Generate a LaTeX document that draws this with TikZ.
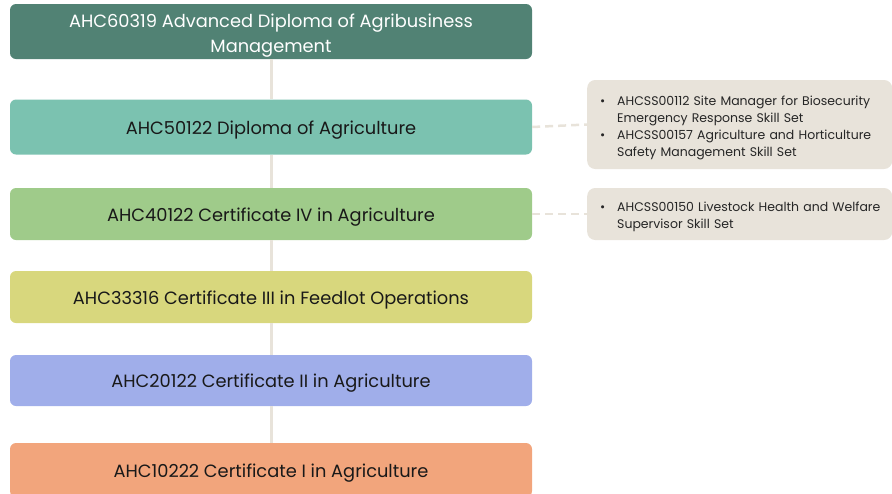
\documentclass[tikz,border=0pt]{standalone}
\usepackage{fontspec}
\setmainfont{Poppins}
\newcommand{\dn}[1]{\raisebox{-3pt}[\height][\depth]{#1}}
\begin{document}
\begin{tikzpicture}[x=1pt,y=-1pt,
  lvl/.style={rounded corners=6pt, minimum width=522pt, inner sep=0pt, align=center, font=\fontsize{17.8}{25}\selectfont, text=black!90},
  side/.style={rounded corners=8pt, fill=sidefill, inner sep=0pt, text width=305pt, align=left, anchor=west, font=\fontsize{12.5}{17}\selectfont, text=black!85},
  spine/.style={draw=spinecol, line width=3pt},
  dashlink/.style={draw=spinecol, line width=2.5pt, dash pattern=on 8pt off 5pt}]
\definecolor{c1}{HTML}{518274}
\definecolor{c2}{HTML}{7BC2B0}
\definecolor{c3}{HTML}{9FCB8A}
\definecolor{c4}{HTML}{D8D77D}
\definecolor{c5}{HTML}{A0AEEA}
\definecolor{c6}{HTML}{F2A57C}
\definecolor{sidefill}{HTML}{E8E3DA}
\definecolor{spinecol}{HTML}{E8E3DA}
\useasboundingbox (0,0) rectangle (892,493);
\node[lvl, fill=c1, minimum height=55pt, text=white] (b1) at (271,31.5) {\dn{\begin{tabular}{@{}c@{}}AHC60319 Advanced Diploma of Agribusiness\\Management\end{tabular}}};
\node[lvl, fill=c2, minimum height=55pt] (b2) at (271,127) {\dn{AHC50122 Diploma of Agriculture}};
\node[lvl, fill=c3, minimum height=52pt] (b3) at (271,214) {\dn{AHC40122 Certificate IV in Agriculture}};
\node[lvl, fill=c4, minimum height=52pt] (b4) at (271,297) {\dn{AHC33316 Certificate III in Feedlot Operations}};
\node[lvl, fill=c5, minimum height=51pt] (b5) at (271,380.5) {\dn{AHC20122 Certificate II in Agriculture}};
\node[lvl, fill=c6, minimum height=54pt] (b6) at (271,470) {\dn{AHC10222 Certificate I in Agriculture}};
\node[side, minimum height=89pt] (s1) at (587,124.5) {\dn{\begin{tabular}{@{\hspace{13pt}}p{17pt}@{}l@{}}
\textbullet & AHCSS00112 Site Manager for Biosecurity\\
 & Emergency Response Skill Set\\
\textbullet & AHCSS00157 Agriculture and Horticulture\\
 & Safety Management Skill Set
\end{tabular}}};
\node[side, minimum height=52pt] (s2) at (587,214) {\dn{\begin{tabular}{@{\hspace{13pt}}p{17pt}@{}l@{}}
\textbullet & AHCSS00150 Livestock Health and Welfare\\
 & Supervisor Skill Set
\end{tabular}}};
\draw[spine] (b1) -- (b2);
\draw[spine] (b2) -- (b3);
\draw[spine] (b3) -- (b4);
\draw[spine] (b4) -- (b5);
\draw[spine] (b5) -- (b6);
\draw[dashlink] (b2.east) -- (s1.west);
\draw[dashlink] (b3.east) -- (s2.west);
\end{tikzpicture}
\end{document}
